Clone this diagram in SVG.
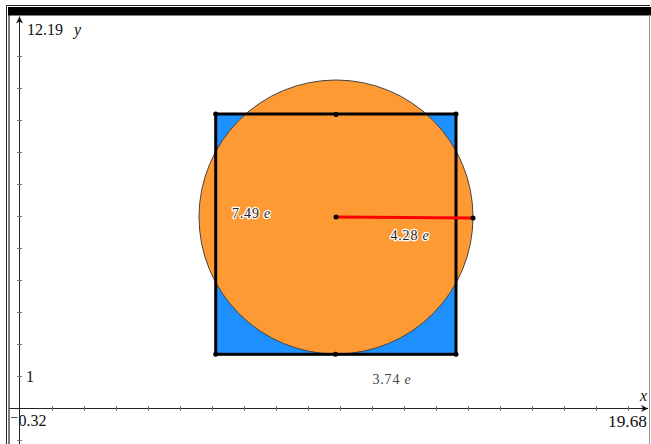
<svg xmlns="http://www.w3.org/2000/svg" width="651" height="444" viewBox="0 0 651 444">
  <style>
    .axis { stroke: #222; stroke-width: 1; fill: none; }
    .tick { stroke: #777; stroke-width: 1; }
    .axlbl { font-family: "Liberation Serif", "DejaVu Serif", serif; font-size: 16px; fill: #111; }
    .var { font-style: italic; }
    .meas { font-family: "Liberation Serif", "DejaVu Serif", serif; font-size: 14px; letter-spacing: 0.8px; fill: #222; stroke: #fff; stroke-width: 2.5px; paint-order: stroke; stroke-linejoin: round; }
    .pt { fill: #000; }
  </style>
  <defs>
    <marker id="arr" viewBox="0 0 10 10" refX="10" refY="5" markerWidth="7" markerHeight="7" orient="auto" markerUnits="userSpaceOnUse">
      <path d="M0,0 L10,5 L0,10 L3,5 Z" fill="#111"/>
    </marker>
  </defs>
  <rect x="0" y="0" width="651" height="444" fill="#fff"/>

  <g id="frame">
    <path d="M6.5,444 V5.5 H650" stroke="#222" stroke-width="1" fill="none"/>
    <rect x="8" y="7" width="643" height="8.5" fill="#000"/>
    <line x1="9" y1="15" x2="9" y2="444" stroke="#222" stroke-width="1.2"/>
    <line x1="649.5" y1="15" x2="649.5" y2="444" stroke="#999" stroke-width="1"/>
  </g>

  <g id="axes">
    <line class="axis" x1="19.5" y1="444" x2="19.5" y2="16.5" marker-end="url(#arr)"/>
    <line class="axis" x1="9.5" y1="408.5" x2="648" y2="408.5" marker-end="url(#arr)"/>
    <g class="tick">
      <line x1="17" y1="440.5" x2="22" y2="440.5"/>
      <line x1="17" y1="376.5" x2="22" y2="376.5"/>
      <line x1="17" y1="344.5" x2="22" y2="344.5"/>
      <line x1="17" y1="312.5" x2="22" y2="312.5"/>
      <line x1="17" y1="280.5" x2="22" y2="280.5"/>
      <line x1="17" y1="248.5" x2="22" y2="248.5"/>
      <line x1="17" y1="216.5" x2="22" y2="216.5"/>
      <line x1="17" y1="184.5" x2="22" y2="184.5"/>
      <line x1="17" y1="152.5" x2="22" y2="152.5"/>
      <line x1="17" y1="120.5" x2="22" y2="120.5"/>
      <line x1="17" y1="88.5" x2="22" y2="88.5"/>
      <line x1="17" y1="56.5" x2="22" y2="56.5"/>
      <line x1="52.5" y1="406" x2="52.5" y2="411"/>
      <line x1="84.5" y1="406" x2="84.5" y2="411"/>
      <line x1="116.5" y1="406" x2="116.5" y2="411"/>
      <line x1="148.5" y1="406" x2="148.5" y2="411"/>
      <line x1="180.5" y1="406" x2="180.5" y2="411"/>
      <line x1="212.5" y1="406" x2="212.5" y2="411"/>
      <line x1="244.5" y1="406" x2="244.5" y2="411"/>
      <line x1="276.5" y1="406" x2="276.5" y2="411"/>
      <line x1="308.5" y1="406" x2="308.5" y2="411"/>
      <line x1="340.5" y1="406" x2="340.5" y2="411"/>
      <line x1="372.5" y1="406" x2="372.5" y2="411"/>
      <line x1="404.5" y1="406" x2="404.5" y2="411"/>
      <line x1="436.5" y1="406" x2="436.5" y2="411"/>
      <line x1="468.5" y1="406" x2="468.5" y2="411"/>
      <line x1="500.5" y1="406" x2="500.5" y2="411"/>
      <line x1="532.5" y1="406" x2="532.5" y2="411"/>
      <line x1="564.5" y1="406" x2="564.5" y2="411"/>
      <line x1="596.5" y1="406" x2="596.5" y2="411"/>
      <line x1="628.5" y1="406" x2="628.5" y2="411"/>
    </g>
    <text class="axlbl" x="27" y="35">12.19</text>
    <text class="axlbl var" x="74" y="35">y</text>
    <text class="axlbl" x="26" y="382">1</text>
    <text class="axlbl" x="10" y="426">⁻0.32</text>
    <text class="axlbl" x="608" y="427" textLength="39" lengthAdjust="spacingAndGlyphs">19.68</text>
    <text class="axlbl var" x="640" y="401">x</text>
  </g>

  <g id="square-fill">
    <rect x="215.7" y="114" width="240.3" height="240.3" fill="#1E90FF"/>
  </g>

  <g id="circle">
    <circle cx="336" cy="217" r="137" fill="#FD9A34" stroke="#444" stroke-width="1"/>
  </g>

  <g id="square">
    <rect x="215.7" y="114" width="240.3" height="240.3" fill="none" stroke="#000" stroke-width="3"/>
    <circle class="pt" cx="215.7" cy="114" r="2.5"/>
    <circle class="pt" cx="456" cy="114" r="2.5"/>
    <circle class="pt" cx="456" cy="354.3" r="2.5"/>
    <circle class="pt" cx="215.7" cy="354.3" r="2.5"/>
    <circle class="pt" cx="336" cy="114.5" r="2.5"/>
    <circle class="pt" cx="335.5" cy="354.3" r="2.5"/>
  </g>

  <g id="radius">
    <line x1="336" y1="217" x2="473" y2="218" stroke="#F00" stroke-width="3"/>
    <circle class="pt" cx="336" cy="217" r="2.5"/>
    <circle class="pt" cx="473" cy="218" r="2.5"/>
  </g>

  <g id="labels">
    <text class="meas" x="232" y="218">7.49 <tspan class="var">e</tspan></text>
    <text class="meas" x="390.5" y="240">4.28 <tspan class="var">e</tspan></text>
    <text class="meas" x="372.5" y="384" style="fill:#444">3.74 <tspan class="var">e</tspan></text>
  </g>
</svg>
